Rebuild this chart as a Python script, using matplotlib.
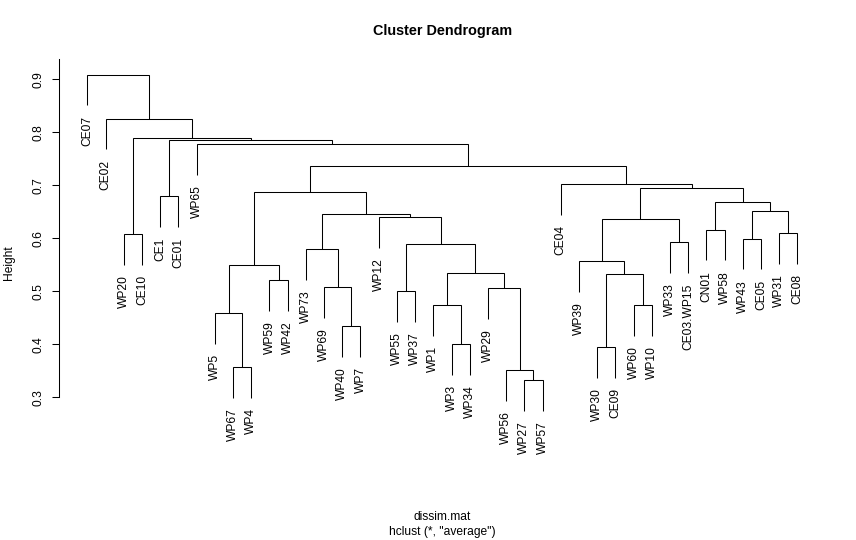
import matplotlib
matplotlib.use("Agg")
import matplotlib.pyplot as plt

# ---- data (leaf order as plotted) ----
labels = ["CE07", "CE02", "WP20", "CE10", "CE1", "CE01", "WP65", "WP5", "WP67", "WP4",
          "WP59", "WP42", "WP73", "WP69", "WP40", "WP7", "WP12", "WP55", "WP37", "WP1",
          "WP3", "WP34", "WP29", "WP56", "WP27", "WP57", "CE04", "WP39", "WP30", "CE09",
          "WP60", "WP10", "WP33", "CE03.WP15", "CN01", "WP58", "WP43", "CE05", "WP31", "CE08"]

# R-style merge matrix: negative = leaf (1-based), positive = earlier merge (1-based)
merge_left = [-25, -24, -9, -29, -21, -15, -8, -20, -31, -18,
              -23, -14, -11, 4, 8, 7, -28, -13, 10, -33,
              -37, -3, -39, -35, 17, -17, 18, 21, 24, -5,
              16, 25, -27, 31, -7, 30, 22, -2, -1]
merge_right = [-26, 1, -10, -30, -22, -16, 3, 5, -32, -19,
               2, 6, -12, 9, 11, 13, 14, 12, 15, -34,
               -38, -4, -40, -36, 20, 19, 26, 23, 28, -6,
               27, 29, 32, 33, 34, 35, 36, 37, 38]
merge_height = [0.332, 0.351, 0.357, 0.394, 0.400, 0.434, 0.4585, 0.4736, 0.474, 0.500,
                0.5057, 0.5075, 0.521, 0.532, 0.5345, 0.549, 0.5566, 0.579, 0.589, 0.5925,
                0.599, 0.6075, 0.6094, 0.616, 0.637, 0.640, 0.645, 0.652, 0.669, 0.679,
                0.687, 0.694, 0.702, 0.737, 0.777, 0.785, 0.789, 0.826, 0.909]

yticks = [0.3, 0.4, 0.5, 0.6, 0.7, 0.8, 0.9]
title = "Cluster Dendrogram"
xlab = "dissim.mat"
sublab = 'hclust (*, "average")'
ylab = "Height"

# ---- figure ----
plt.rcParams['font.family'] = ['Liberation Sans', 'DejaVu Sans']
W, H = 856, 540
fig = plt.figure(figsize=(W / 100, H / 100), dpi=100)
left_px, right_px, top_px, bot_px = 59.04, 825.76, 59.04, 466.56
ax = fig.add_axes([left_px / W, 1 - bot_px / H, (right_px - left_px) / W, (bot_px - top_px) / H])

n = len(labels)
ax.set_xlim(1 - 0.04 * (n - 1), n + 0.04 * (n - 1))
ax.set_ylim(0.1693, 0.9382)

hang = 0.1 * (max(merge_height) - min(merge_height))
lw = 0.75
col = 'black'

node_x = {}
leaf_x = {i + 1: i + 1 for i in range(n)}


def child_pos(c, h):
    if c < 0:
        return leaf_x[-c], h - hang
    return node_x[c], merge_height[c - 1]


for k in range(len(merge_height)):
    h = merge_height[k]
    xl, yl = child_pos(merge_left[k], h)
    xr, yr = child_pos(merge_right[k], h)
    node_x[k + 1] = (xl + xr) / 2
    ax.plot([xl, xl, xr, xr], [yl, h, h, yr], color=col, lw=lw,
            solid_joinstyle='miter', solid_capstyle='butt')
    for c, xc, yc in ((merge_left[k], xl, yl), (merge_right[k], xr, yr)):
        if c < 0:
            ax.annotate(labels[-c - 1], xy=(xc, yc), xytext=(0, -7.5),
                        textcoords='offset points', rotation=90,
                        ha='center', va='top', fontsize=8.64, color='black',
                        annotation_clip=False)

# axes styling
for s in ['top', 'right', 'bottom']:
    ax.spines[s].set_visible(False)
ax.spines['left'].set_bounds(0.3, 0.9382)
ax.spines['left'].set_linewidth(lw)
ax.set_xticks([])
ax.set_yticks(yticks)
ax.set_yticklabels([f"{t:.1f}" for t in yticks])
ax.tick_params(axis='y', length=5.2, width=lw, pad=5.0, labelsize=8.64, labelrotation=90)
for t in ax.get_yticklabels():
    t.set_va('center')
ax.patch.set_visible(False)

cx = (left_px + right_px) / 2 / W
fig.text(cx, 1 - 31.5 / H, title, ha='center', va='center', fontsize=10.37, fontweight='bold')
fig.text(cx, 1 - 517.5 / H, xlab, ha='center', va='center', fontsize=8.64)
fig.text(cx, 1 - 531.5 / H, sublab, ha='center', va='center', fontsize=8.64)
fig.text(9 / W, 1 - (top_px + bot_px) / 2 / H, ylab, ha='center', va='center',
         rotation=90, fontsize=8.64)

fig.savefig("out.png", dpi=100)
